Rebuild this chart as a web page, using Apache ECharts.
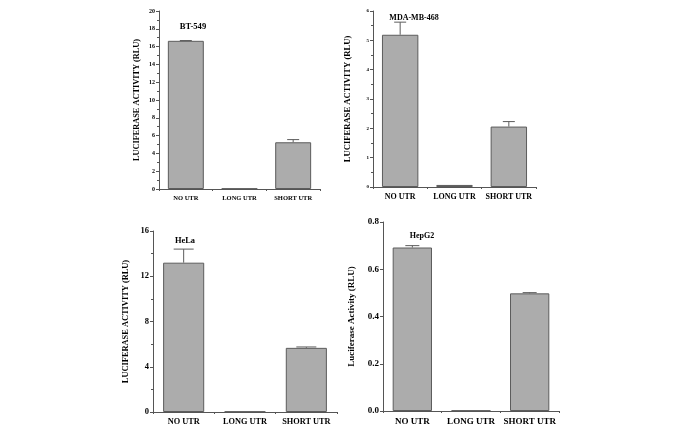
<!DOCTYPE html>
<html><head><meta charset="utf-8">
<script src="https://cdn.jsdelivr.net/npm/echarts@6/dist/echarts.min.js"></script>
<style>html,body{margin:0;padding:0;background:#fff}#c{width:685px;height:432px}</style>
</head><body><div id="c"></div>
<script>
const categories = ['NO UTR', 'LONG UTR', 'SHORT UTR'];
const panelTitles = ['BT-549', 'MDA-MB-468', 'HeLa', 'HepG2'];
const yNames = ['LUCIFERASE ACTIVITY (RLU)', 'LUCIFERASE ACTIVITY (RLU)', 'LUCIFERASE ACTIVITY (RLU)', 'Luciferase Activity (RLU)'];
const bt549 = [16.65, 0.05, 5.25];
const bt549Err = [0.03, 0, 0.3];
const mda468 = [5.19, 0.07, 2.06];
const mda468Err = [0.43, 0, 0.17];
const hela = [13.2, 0.04, 5.67];
const helaErr = [1.2, 0, 0.08];
const hepg2 = [0.692, 0.002, 0.498];
const hepg2Err = [0.008, 0, 0.003];
const yMax = [20, 6, 16, 0.8];
const yStep = [2, 1, 4, 0.2];

const values = [bt549, mda468, hela, hepg2];
const errs = [bt549Err, mda468Err, helaErr, hepg2Err];

const grids = [
  {left: 159, top: 11, width: 161, height: 178},
  {left: 373, top: 11, width: 163, height: 176},
  {left: 153, top: 231, width: 184, height: 181},
  {left: 383, top: 222, width: 176, height: 189}
];
const tickFont = [6, 5, 8.5, 9];
const catFont = [6.5, 8, 8.3, 9];
const nameFont = [8.3, 8.6, 8.4, 9];
const nameGap = [18, 21, 23, 27];
const capHalf = [6, 6, 10, 7];
const titlePos = [[188, 22], [409, 13], [180, 236], [417, 231]];
const titleFont = [8.6, 8, 8.4, 8];
const serif = '"Liberation Serif", "Times New Roman", serif';
const axisColor = '#555';

const option = {
  animation: false,
  grid: grids.map(g => Object.assign({containLabel: false}, g)),
  xAxis: grids.map((g, i) => ({
    type: 'category', gridIndex: i, data: categories,
    axisLine: {lineStyle: {color: axisColor, width: 1}},
    axisTick: {show: true, length: 2, lineStyle: {color: axisColor}},
    axisLabel: {color: '#000', fontFamily: serif, fontWeight: 'bold', fontSize: catFont[i], margin: 6, interval: 0}
  })),
  yAxis: grids.map((g, i) => ({
    type: 'value', gridIndex: i, min: 0, max: yMax[i], interval: yStep[i],
    name: yNames[i], nameLocation: 'middle', nameGap: nameGap[i], nameRotate: 90,
    nameTextStyle: {color: '#000', fontFamily: serif, fontWeight: 'bold', fontSize: nameFont[i]},
    splitLine: {show: false},
    axisLine: {show: true, lineStyle: {color: axisColor, width: 1}},
    axisTick: {show: true, length: 3, lineStyle: {color: axisColor}},
    minorTick: {show: i !== 3, splitNumber: 2, length: 2, lineStyle: {color: axisColor}},
    axisLabel: {color: '#000', fontFamily: serif, fontWeight: 'bold', fontSize: tickFont[i], margin: 4,
      formatter: v => i === 3 ? v.toFixed(1) : String(v)}
  })),
  title: panelTitles.map((t, i) => ({
    text: t, left: titlePos[i][0], top: titlePos[i][1], textAlign: 'center', textVerticalAlign: 'middle',
    textStyle: {fontFamily: serif, fontWeight: 'bold', fontSize: titleFont[i], color: '#000'}
  })),
  series: []
};

values.forEach((vals, i) => {
  option.series.push({
    type: 'bar', xAxisIndex: i, yAxisIndex: i, data: vals, barWidth: '67%',
    itemStyle: {color: '#acacac', borderColor: '#5c5c5c', borderWidth: 1}
  });
  option.series.push({
    type: 'custom', xAxisIndex: i, yAxisIndex: i,
    data: vals.map((v, k) => [k, v, v + errs[i][k]]),
    renderItem: function (params, api) {
      const x = api.value(0), lo = api.value(1), hi = api.value(2);
      if (hi - lo <= 0) return null;
      const p0 = api.coord([x, lo]);
      const p1 = api.coord([x, hi]);
      const h = capHalf[i];
      const st = {stroke: '#5c5c5c', lineWidth: 1};
      return {type: 'group', children: [
        {type: 'line', shape: {x1: p0[0], y1: p0[1], x2: p1[0], y2: p1[1]}, style: st},
        {type: 'line', shape: {x1: p1[0] - h, y1: p1[1], x2: p1[0] + h, y2: p1[1]}, style: st}
      ]};
    },
    z: 5
  });
});

const chart = echarts.init(document.getElementById('c'), null, {renderer: 'canvas'});
chart.setOption(option);
</script>
</body></html>
